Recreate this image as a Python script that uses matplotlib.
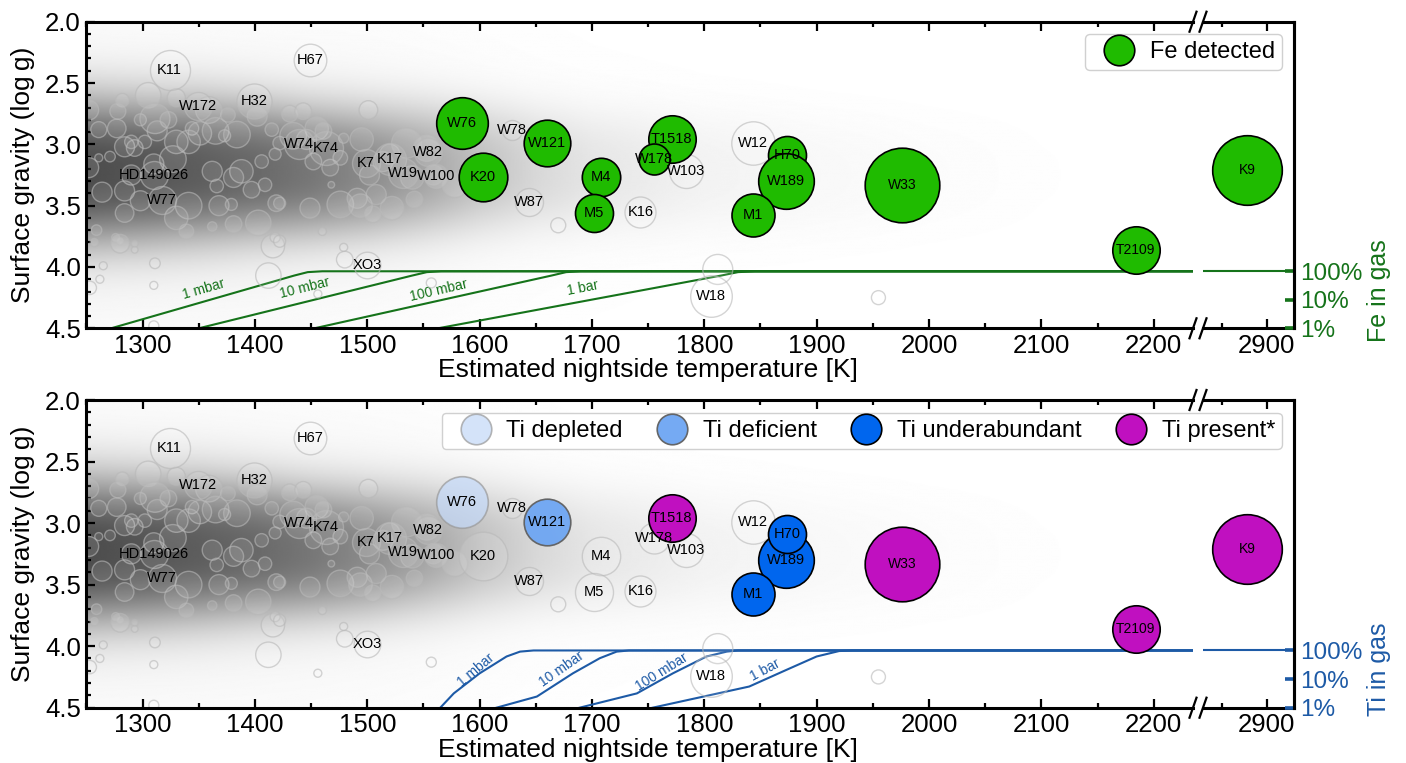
import numpy as np
import matplotlib
matplotlib.use("Agg")
import matplotlib.pyplot as plt
from matplotlib.lines import Line2D
from matplotlib.ticker import MultipleLocator, FixedLocator

plt.rcParams['font.family'] = ['Liberation Sans', 'DejaVu Sans']

# ---------------- data ----------------
names = ['W76', 'K20', 'W121', 'M4', 'M5', 'T1518', 'W178', 'H70', 'W189', 'M1', 'W33', 'T2109', 'K9',
         'K11', 'H67', 'H32', 'W172', 'W74', 'K74', 'K7', 'K17', 'W19', 'W82', 'W100', 'HD149026',
         'W77', 'XO3', 'W78', 'W87', 'K16', 'W103', 'W12', 'W18']
temp = [1584, 1603, 1660, 1708, 1702, 1771, 1755, 1874, 1873, 1843, 1976, 2184, 2878,
        1324, 1449, 1399, 1349, 1439, 1463, 1499, 1520, 1532, 1554, 1561, 1310,
        1317, 1500, 1629, 1644, 1743, 1784, 1843, 1806]
logg = [2.83, 3.27, 2.99, 3.27, 3.56, 2.96, 3.12, 3.09, 3.30, 3.58, 3.33, 3.86, 3.21,
        2.39, 2.31, 2.65, 2.69, 3.00, 3.03, 3.15, 3.12, 3.235, 3.06, 3.26, 3.25,
        3.45, 3.98, 2.88, 3.47, 3.55, 3.22, 2.99, 4.24]
bubble = [25.8, 24.3, 23.3, 19.2, 19.0, 23.7, 15.5, 19.0, 27.8, 21.5, 37.3, 23.7, 34.8,
          20.0, 16.3, 17.5, 14.0, 15.0, 17.0, 14.0, 16.0, 15.0, 14.0, 12.0, 14.0,
          14.0, 13.3, 10.0, 14.0, 15.5, 17.0, 21.7, 20.8]
fe_detected = [True] * 13 + [False] * 20
ti_class = ['depleted', '', 'deficient', '', '', 'present', '', 'under', 'under', 'under',
            'present', 'present', 'present'] + [''] * 20

pop_T = [1305, 1282, 1330, 1252, 1278, 1298, 1261, 1277, 1311, 1323, 1376, 1402, 1359, 1344,
         1351, 1365, 1373, 1384, 1415, 1284, 1293, 1290, 1302, 1313, 1330, 1341, 1261, 1271,
         1252, 1310, 1327, 1362, 1388, 1406, 1418, 1422, 1290, 1264, 1284, 1366, 1381, 1397,
         1409, 1341, 1368, 1379, 1419, 1284, 1298, 1330, 1339, 1362, 1381, 1403, 1259, 1276,
         1280, 1280, 1293, 1293, 1257, 1416, 1418, 1311, 1265, 1262, 1253, 1310, 1412, 1310,
         1431, 1443, 1455, 1461, 1501, 1434, 1446, 1479, 1495, 1452, 1467, 1476, 1520, 1535,
         1514, 1553, 1540, 1559, 1502, 1468, 1422, 1449, 1476, 1491, 1494, 1508, 1505, 1522,
         1542, 1460, 1422, 1479, 1480, 1557, 1456, 1578, 1670, 1955, 1812]
pop_logg = [2.60, 2.64, 2.62, 2.72, 2.73, 2.80, 2.88, 2.87, 2.79, 2.80, 2.76, 2.77, 2.72, 2.87,
            2.91, 2.89, 2.93, 2.92, 2.88, 3.02, 3.03, 2.98, 2.98, 2.89, 2.98, 2.98, 3.11, 3.10,
            3.19, 3.16, 3.12, 3.22, 3.22, 3.14, 3.08, 2.99, 3.25, 3.39, 3.38, 3.34, 3.27, 3.37,
            3.33, 3.50, 3.50, 3.49, 3.48, 3.56, 3.46, 3.60, 3.71, 3.67, 3.65, 3.64, 3.70, 3.76,
            3.79, 3.81, 3.81, 3.86, 3.80, 3.83, 3.76, 3.97, 3.99, 4.10, 4.17, 4.15, 4.07, 4.48,
            2.75, 2.73, 2.87, 2.89, 2.72, 2.93, 2.96, 2.95, 2.96, 3.14, 3.19, 3.11, 3.08, 2.99,
            3.14, 3.03, 3.27, 3.25, 3.25, 3.33, 3.48, 3.52, 3.49, 3.44, 3.50, 3.41, 3.57, 3.52,
            3.45, 3.71, 3.79, 3.84, 3.94, 4.13, 4.22, 3.33, 3.66, 4.25, 4.02]
pop_bubble = [12.7, 6.7, 9.0, 10.0, 8.0, 6.0, 8.0, 9.3, 15.0, 8.3, 7.3, 10.0, 13.3, 6.7,
              11.7, 13.3, 6.0, 13.3, 6.7, 10.0, 8.3, 6.7, 6.7, 10.0, 11.7, 11.7, 4.0, 5.3,
              10.0, 10.0, 13.3, 10.0, 11.7, 6.7, 6.0, 6.7, 10.0, 10.0, 10.0, 6.7, 10.0, 8.3,
              6.7, 13.3, 10.0, 6.0, 8.3, 9.3, 10.0, 11.7, 7.3, 4.7, 8.3, 12.7, 5.3, 4.0,
              3.3, 9.3, 3.3, 3.3, 4.0, 11.7, 5.0, 5.3, 4.0, 4.0, 6.7, 4.0, 12.7, 5.0,
              8.3, 8.3, 11.7, 8.3, 9.3, 13.3, 10.0, 5.0, 11.7, 8.3, 8.3, 7.3, 10.0, 15.0,
              10.0, 13.3, 11.7, 10.0, 10.0, 3.3, 6.0, 10.0, 13.3, 10.0, 11.7, 10.0, 8.3, 11.7,
              8.3, 4.0, 6.0, 4.0, 8.3, 5.0, 4.0, 12.7, 7.5, 7.0, 15.0]

# population density band (read from the shading)
band_T = [1250, 1300, 1350, 1400, 1450, 1500, 1550, 1600, 1650, 1700, 1800, 1900, 2000, 2100, 2240]
band_center = [3.22, 3.22, 3.21, 3.21, 3.22, 3.22, 3.21, 3.20, 3.20, 3.21, 3.23, 3.25, 3.25, 3.25, 3.25]
band_halfwidth = [0.52, 0.51, 0.50, 0.48, 0.46, 0.45, 0.44, 0.43, 0.42, 0.42, 0.42, 0.42, 0.42, 0.42, 0.42]
band_depth = [0.63, 0.60, 0.57, 0.53, 0.48, 0.41, 0.32, 0.22, 0.14, 0.09, 0.045, 0.025, 0.012, 0.004, 0.0]

# gas-fraction curves: temperature [K] and log10(fraction in gas)
pressures = ['1 mbar', '10 mbar', '100 mbar', '1 bar']
fe_curve_T = [[1272, 1435, 1447, 1460], [1350, 1540, 1553, 1566],
              [1453, 1664, 1677, 1690], [1563, 1815, 1830, 1845]]
fe_curve_lf = [[-2, -0.15, -0.03, 0]] * 4
ti_curve_T = [[1565, 1577, 1600, 1624, 1636, 1648], [1615, 1651, 1683, 1707, 1722, 1733],
              [1689, 1740, 1772, 1802, 1820, 1830], [1754, 1840, 1873, 1900, 1920, 1932]]
ti_curve_lf = [[-2, -1.50, -0.80, -0.21, -0.04, 0], [-2, -1.61, -0.80, -0.27, -0.04, 0],
               [-2, -1.50, -0.80, -0.21, -0.04, 0], [-2, -1.26, -0.68, -0.21, -0.02, 0]]
fe_label_T = [1354, 1444, 1564, 1692]
fe_label_g = [4.18, 4.17, 4.19, 4.17]
fe_label_rot = [16, 14, 13, 11]
ti_label_T = [1597, 1673, 1762, 1854]
ti_label_g = [4.19, 4.19, 4.21, 4.19]
ti_label_rot = [40, 35, 32, 28]

frac_ticks = [0, -1, -2]
frac_labels = ['100%', '10%', '1%']

# ---------------- style ----------------
W, H = 1406, 763
fig = plt.figure(figsize=(W / 100, H / 100), dpi=100)


def fx(px):
    return px / W


def fy(py):
    return 1 - py / H


MAIN_L, MAIN_R, BRK_L, BRK_R = 86.4, 1193.0, 1203.0, 1294.3
T_MAIN = (1250, 2235)
T_BRK = (2829, 2931)
G100, DEC = 4.035, 0.2325
SPINE = 2.2
TICK_FS = 18.5
LABEL_FS = 19
GREEN = '#1fbb00'
FE_COL = '#15731a'
TI_COL = '#1d5aa6'
TI_FACE = {'depleted': '#c4d9f8', 'deficient': '#6ea6f3', 'under': '#0066ee', 'present': '#c010c0'}
TI_EDGE = {'depleted': '#9a9a9a', 'deficient': '#606060', 'under': 'k', 'present': 'k'}
TI_ALPHA = {'depleted': 0.72, 'deficient': 0.95, 'under': 1.0, 'present': 1.0}
TI_NAME = {'depleted': 'Ti depleted', 'deficient': 'Ti deficient',
           'under': 'Ti underabundant', 'present': 'Ti present*'}


def lf2g(lf):
    return G100 - DEC * np.asarray(lf, dtype=float)


def msize(r):
    return (1.44 * np.asarray(r, dtype=float)) ** 2


def panel(top, bot, mode):
    h = (bot - top) / H
    axm = fig.add_axes([fx(MAIN_L), fy(bot), (MAIN_R - MAIN_L) / W, h])
    axb = fig.add_axes([fx(BRK_L), fy(bot), (BRK_R - BRK_L) / W, h])
    for ax, xl in ((axm, T_MAIN), (axb, T_BRK)):
        ax.set_xlim(*xl)
        ax.set_ylim(4.5, 2.0)
        for s in ax.spines.values():
            s.set_linewidth(SPINE)
        ax.tick_params(which='both', direction='in', top=True, labelsize=TICK_FS, width=1.6, pad=4)
        ax.tick_params(which='major', length=6.5)
        ax.tick_params(which='minor', length=3.8)
    axm.spines['right'].set_visible(False)
    axb.spines['left'].set_visible(False)
    axm.xaxis.set_major_locator(FixedLocator(list(range(1300, 2201, 100))))
    axm.xaxis.set_minor_locator(FixedLocator(list(range(1250, 2235, 50))))
    axm.yaxis.set_major_locator(MultipleLocator(0.5))
    axm.yaxis.set_minor_locator(MultipleLocator(0.1))
    axm.yaxis.set_major_formatter('{x:.1f}')
    axm.tick_params(axis='y', which='both', right=False)
    axb.set_xticks([2900])
    axb.set_xticks([2850], minor=True)
    axb.set_yticks([])
    axb.set_yticks([], minor=True)

    # background population density
    Tg = np.linspace(T_MAIN[0], T_MAIN[1], 700)
    gg = np.linspace(2.0, 4.5, 400)
    TT, GG = np.meshgrid(Tg, gg)
    c = np.interp(TT, band_T, band_center)
    w = np.interp(TT, band_T, band_halfwidth)
    d = np.interp(TT, band_T, band_depth)
    core = d * np.exp(-np.log(2) * np.abs((GG - c) / w) ** 2.6)
    halo = d / 0.63 * 0.07 * np.exp(-0.5 * ((GG - 3.3) / 0.8) ** 2)
    img = np.clip(1 - core - halo, 0, 1)
    axm.imshow(img, extent=[T_MAIN[0], T_MAIN[1], 4.5, 2.0], origin='upper', cmap='gray',
               vmin=0, vmax=1, aspect='auto', interpolation='bilinear', zorder=0)

    # gas-fraction curves
    if mode == 'fe':
        cT, cL, lT, lG, lR, col = fe_curve_T, fe_curve_lf, fe_label_T, fe_label_g, fe_label_rot, FE_COL
    else:
        cT, cL, lT, lG, lR, col = ti_curve_T, ti_curve_lf, ti_label_T, ti_label_g, ti_label_rot, TI_COL
    for i, p in enumerate(pressures):
        axm.plot(list(cT[i]) + [T_MAIN[1]], lf2g(list(cL[i]) + [0]), color=col, lw=1.5, zorder=2)
        axm.text(lT[i], lG[i], p, color=col, fontsize=10, rotation=lR[i], ha='center', va='center',
                 rotation_mode='anchor', zorder=2)
    axb.plot(T_BRK, lf2g([0, 0]), color=col, lw=1.5, zorder=2)

    # population circles
    axm.scatter(pop_T, pop_logg, s=msize(pop_bubble), facecolors=(1, 1, 1, 0.1),
                edgecolors=(0.72, 0.72, 0.72, 0.6), linewidths=1.0, zorder=2)

    order = list(range(len(names)))
    if mode == 'ti':
        order.remove(names.index('H70'))
        order.insert(order.index(names.index('W189')) + 1, names.index('H70'))
    for i in order:
        ax = axb if temp[i] > 2500 else axm
        if mode == 'fe' and fe_detected[i]:
            fc, ec, a, lw, z = GREEN, 'k', 1.0, 1.2, 3
        elif mode == 'ti' and ti_class[i]:
            k = ti_class[i]
            fc, ec, a, lw, z = TI_FACE[k], TI_EDGE[k], TI_ALPHA[k], 1.2, 3
        else:
            fc, ec, a, lw, z = (1, 1, 1, 0.1), (0.72, 0.72, 0.72, 0.6), None, 1.0, 2
        ax.scatter([temp[i]], [logg[i]], s=msize(bubble[i]), facecolors=[fc], edgecolors=[ec],
                   linewidths=lw, alpha=a, zorder=z)
        fs = 10 if names[i] in ('K9', 'T2109', 'W33') else 10.5
        ax.text(temp[i], logg[i], names[i], fontsize=fs, ha='center', va='center', zorder=5)

    # right-hand gas fraction axis
    tw = axb.twinx()
    tw.set_ylim(-2, (G100 - 2.0) / DEC)
    tw.set_yticks(frac_ticks)
    tw.set_yticklabels(frac_labels)
    tw.tick_params(axis='y', direction='in', length=6.5, width=2.6, colors=col, labelsize=17.5, pad=4)
    for s in ('left', 'top', 'bottom'):
        tw.spines[s].set_visible(False)
    tw.spines['right'].set_linewidth(SPINE)

    # broken axis marks
    for py in (top, bot):
        for xc in (MAIN_R, BRK_L):
            fig.add_artist(Line2D([fx(xc - 3.5), fx(xc + 3.5)], [fy(py + 10), fy(py - 10)],
                                  color='k', lw=1.6, transform=fig.transFigure))

    # labels
    fig.text(fx(648), fy(bot + 42), 'Estimated nightside temperature [K]', fontsize=LABEL_FS,
             ha='center', va='center')
    fig.text(fx(23), fy((top + bot) / 2), 'Surface gravity (log\u2009g)', fontsize=LABEL_FS,
             rotation=90, ha='center', va='center')
    glab = 'Fe in gas' if mode == 'fe' else 'Ti in gas'
    fig.text(fx(1379), fy(bot - 38), glab, fontsize=18, rotation=90, ha='center', va='center',
             color=col)
    return axm, axb


panel(21.7, 328.3, 'fe')
panel(400.0, 707.7, 'ti')

leg_kw = dict(loc='upper right', frameon=True, fontsize=17, handlelength=2.3, handletextpad=0.14,
              borderpad=0.3, borderaxespad=0, framealpha=1, edgecolor='#d0d0d0', fancybox=True)
fe_handle = Line2D([], [], ls='', marker='o', markersize=22, markerfacecolor=GREEN,
                   markeredgecolor='k', markeredgewidth=1.2)
lg1 = fig.legend([fe_handle], ['Fe detected'], bbox_to_anchor=(fx(1282), fy(34)), **leg_kw)

ti_handles = []
for k in ('depleted', 'deficient', 'under', 'present'):
    ti_handles.append(Line2D([], [], ls='', marker='o', markersize=22, markerfacecolor=TI_FACE[k],
                             markeredgecolor=TI_EDGE[k], markeredgewidth=1.2, alpha=TI_ALPHA[k]))
lg2 = fig.legend(ti_handles, [TI_NAME[k] for k in ('depleted', 'deficient', 'under', 'present')],
                 bbox_to_anchor=(fx(1282), fy(412.7)), ncol=4, columnspacing=0.95, **leg_kw)

fig.savefig('out.png', dpi=100)
